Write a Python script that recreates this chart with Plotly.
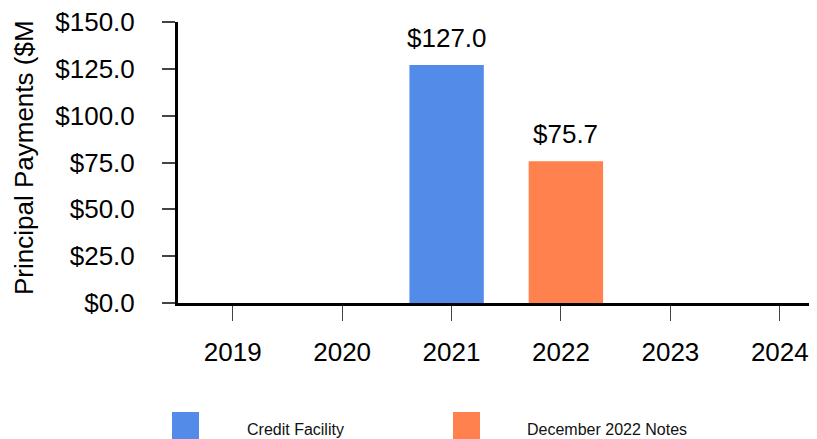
import plotly.graph_objects as go

years = ["2019", "2020", "2021", "2022", "2023", "2024"]
credit_facility = [None, None, 127.0, None, None, None]
december_notes = [None, None, None, 75.7, None, None]
y_ticks = [0, 25, 50, 75, 100, 125, 150]
y_tick_labels = ["$0.0", "$25.0", "$50.0", "$75.0", "$100.0", "$125.0", "$150.0"]
series_names = ["Credit Facility", "December 2022 Notes"]
colors = ["#528BE8", "#FF814D"]

OFF = 8  # page body margin
W, H = 817 - OFF, 439 - OFF
L, R, T, B = 178 - OFF, 0, 22 - OFF, 136
pw, ph = W - L - R, H - T - B

def px(x):
    return (x - OFF - L) / pw

def py(y):
    return (H - B - (y - OFF)) / ph

FONT = "Liberation Sans, Arial, sans-serif"

fig = go.Figure()
fig.add_trace(go.Bar(x=years, y=credit_facility, name=series_names[0],
                     marker=dict(color=colors[0], line=dict(width=0)),
                     width=0.68, offset=-0.385))
fig.add_trace(go.Bar(x=years, y=december_notes, name=series_names[1],
                     marker=dict(color=colors[1], line=dict(width=0)),
                     width=0.68, offset=-0.295))

annotations = []
for si, series in enumerate((credit_facility, december_notes)):
    for i, v in enumerate(series):
        if v is not None:
            annotations.append(dict(x=i, y=v, xref="x", yref="y", text=f"${v:.1f}",
                                    showarrow=False, yanchor="middle", yshift=27,
                                    xshift=-5 if si == 0 else 5,
                                    font=dict(size=26, color="#000", family=FONT)))

annotations.append(dict(x=px(24), y=py(158), xref="paper", yref="paper",
                        text="Principal Payments ($M", textangle=-90, showarrow=False,
                        xanchor="center", yanchor="middle",
                        font=dict(size=26, color="#000", family=FONT)))

shapes = []
legend_pos = [(172, 245), (453, 525)]
for (sx, tx), name, c in zip(legend_pos, series_names, colors):
    shapes.append(dict(type="rect", xref="paper", yref="paper",
                       x0=px(sx), x1=px(sx + 27), y0=py(412), y1=py(442),
                       fillcolor=c, line=dict(width=0)))
    annotations.append(dict(x=px(tx), y=py(429), xref="paper", yref="paper", text=name,
                            showarrow=False, xanchor="left", yanchor="middle",
                            font=dict(size=16, color="#111", family=FONT)))

fig.update_layout(
    width=W, height=H,
    margin=dict(l=L, r=R, t=T, b=B, pad=0),
    paper_bgcolor="white", plot_bgcolor="white",
    showlegend=False,
    barmode="overlay",
    font=dict(family=FONT, size=26, color="#000"),
    annotations=annotations,
    shapes=shapes,
    xaxis=dict(type="category", range=[-0.5, 5.34], showline=True, linecolor="#000",
               linewidth=3, ticks="outside", ticklen=15, tickwidth=1, tickcolor="#444",
               showgrid=False, zeroline=False, ticklabelstandoff=9,
               ticklabeloverflow="allow",
               tickfont=dict(size=26, color="#000")),
    yaxis=dict(range=[0, 150], tickvals=y_ticks, ticktext=y_tick_labels,
               showline=True, linecolor="#000", linewidth=3, ticks="outside",
               ticklen=13, tickwidth=1.5, tickcolor="#444", showgrid=False,
               zeroline=False, ticklabelstandoff=22, ticklabeloverflow="allow",
               tickfont=dict(size=26, color="#000")),
)

fig.write_html("out.html")
